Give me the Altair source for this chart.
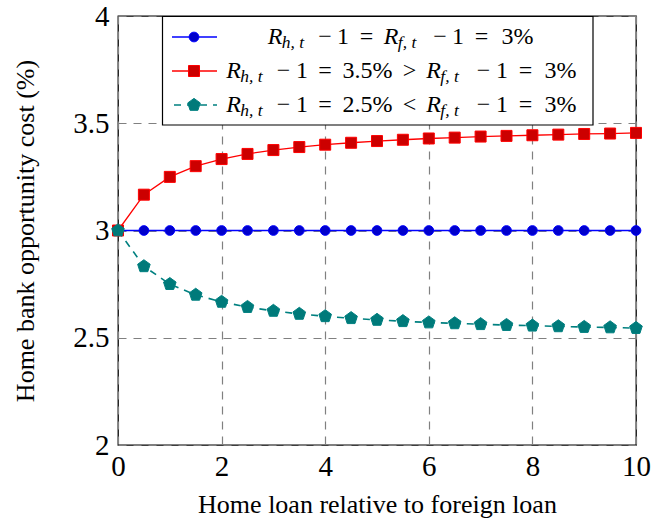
import altair as alt
import pandas as pd

# ---------------- data ----------------
x_vals = [0, 0.5, 1, 1.5, 2, 2.5, 3, 3.5, 4, 4.5, 5, 5.5, 6, 6.5, 7, 7.5, 8, 8.5, 9, 9.5, 10]
blue_vals = [3.0, 3.0, 3.0, 3.0, 3.0, 3.0, 3.0, 3.0, 3.0, 3.0, 3.0,
             3.0, 3.0, 3.0, 3.0, 3.0, 3.0, 3.0, 3.0, 3.0, 3.0]
red_vals = [3.0, 3.167, 3.25, 3.30, 3.333, 3.357, 3.375, 3.389, 3.40, 3.409, 3.417,
            3.423, 3.429, 3.433, 3.438, 3.441, 3.444, 3.447, 3.45, 3.452, 3.455]
teal_vals = [3.0, 2.833, 2.75, 2.70, 2.667, 2.643, 2.625, 2.611, 2.60, 2.591, 2.583,
             2.577, 2.571, 2.567, 2.563, 2.559, 2.556, 2.553, 2.55, 2.548, 2.545]
x_ticks = [0, 2, 4, 6, 8, 10]
y_ticks = [2, 2.5, 3, 3.5, 4]
x_title = "Home loan relative to foreign loan"
y_title = "Home bank opportunity cost (%)"

FONT = "Liberation Serif"
W, H = 518, 429

x_enc = alt.X("x:Q", scale=alt.Scale(domain=[0, 10], nice=False),
              axis=alt.Axis(values=x_ticks, title=x_title, grid=True, ticks=False, tickSize=0,
                            domain=False, labelFontSize=29, labelBaseline="alphabetic",
                            labelPadding=30, labelFlush=False,
                            titleFontSize=26, titleFontWeight="normal", titleBaseline="alphabetic",
                            titleY=67, titleX=W / 2, titleAlign="center"))
y_enc = alt.Y("y:Q", scale=alt.Scale(domain=[2, 4], nice=False, zero=False),
              axis=alt.Axis(values=y_ticks, format="~g", title=y_title, grid=True, ticks=False,
                            tickSize=0, domain=False, labelFontSize=29, labelPadding=9,
                            labelFlush=False, labelBaseline="middle",
                            titleFontSize=26, titleFontWeight="normal", titleAngle=-90,
                            titleBaseline="middle", titleAlign="center", titleX=-93, titleY=H / 2))


def series_df(vals):
    return pd.DataFrame({"x": x_vals, "y": vals})


PENTAGON = "M0,-1L0.951,-0.309L0.588,0.809L-0.588,0.809L-0.951,-0.309Z"

layers = []
# blue
b = alt.Chart(series_df(blue_vals))
layers.append(b.mark_line(color="#0000FF", strokeWidth=1.3).encode(x=x_enc, y=y_enc))
layers.append(b.mark_point(shape="circle", filled=True, fill="#0000CC", stroke="#0000FF",
                           strokeWidth=1, size=95, opacity=1).encode(x="x:Q", y="y:Q"))
# red
r = alt.Chart(series_df(red_vals))
layers.append(r.mark_line(color="#FF0000", strokeWidth=1.3).encode(x="x:Q", y="y:Q"))
layers.append(r.mark_point(shape="square", filled=True, fill="#CC0000", stroke="#FF0000",
                           strokeWidth=1, size=121, opacity=1).encode(x="x:Q", y="y:Q"))
# teal
t = alt.Chart(series_df(teal_vals))
layers.append(t.mark_line(color="#008080", strokeWidth=1.6, strokeDash=[7, 6]).encode(x="x:Q", y="y:Q"))
layers.append(t.mark_point(shape=PENTAGON, filled=True, fill="#007A7A", stroke="#008080",
                           strokeWidth=1, size=175, opacity=1).encode(x="x:Q", y="y:Q"))

# ---------------- legend (drawn by hand, pixel layout) ----------------
LX0 = 162.5 - 118
LX1 = 593 - 118
legend_box = alt.Chart(pd.DataFrame({"a": [0]})).mark_rect(
    fill="white", stroke="black", strokeWidth=1.2).encode(
    x=alt.value(LX0), x2=alt.value(LX1), y=alt.value(0.5), y2=alt.value(109))
layers.append(legend_box)

row_y = [21, 55, 89]
line_x0, line_x1, mark_x = 172 - 118, 217 - 118, 194 - 118
leg_colors = ["#0000FF", "#FF0000", "#008080"]
for i, col in enumerate(leg_colors):
    seg = alt.Chart(pd.DataFrame({"a": [0]}))
    if i == 2:
        layers.append(seg.mark_rule(color=col, strokeWidth=1.6, strokeDash=[7, 6], strokeDashOffset=-2).encode(
            x=alt.value(line_x0), x2=alt.value(line_x1), y=alt.value(row_y[i])))
    else:
        layers.append(seg.mark_rule(color=col, strokeWidth=1.3).encode(
            x=alt.value(line_x0), x2=alt.value(line_x1), y=alt.value(row_y[i])))
leg_marks = [("circle", "#0000CC", "#0000FF", 95), ("square", "#CC0000", "#FF0000", 121),
             (PENTAGON, "#007A7A", "#008080", 175)]
for i, (shp, fill, stroke, size) in enumerate(leg_marks):
    layers.append(alt.Chart(pd.DataFrame({"a": [0]})).mark_point(
        shape=shp, filled=True, fill=fill, stroke=stroke, strokeWidth=1, size=size, opacity=1).encode(
        x=alt.value(mark_x), y=alt.value(row_y[i])))

# legend label pieces: (text, kind, centre-x absolute)
FS_MAIN, FS_SUB = 24, 17.5
SUB_H = "h, t"
SUB_F = "f, t"
label_rows = [
    [("R", "it", 275), (SUB_H, "sub", None), ("\u2212", "rm", 325), ("1", "rm", 343), ("=", "rm", 366.5),
     ("R", "it", 391), (SUB_F, "sub", None), ("\u2212", "rm", 440), ("1", "rm", 458), ("=", "rm", 481.5),
     ("3%", "rm", 517.5)],
    [("R", "it", 233.5), (SUB_H, "sub", None), ("\u2212", "rm", 283.5), ("1", "rm", 302), ("=", "rm", 325),
     ("3.5%", "rm", 367.5), (">", "rm", 409.5), ("R", "it", 433.5), (SUB_F, "sub", None),
     ("\u2212", "rm", 483.5), ("1", "rm", 502), ("=", "rm", 525.5), ("3%", "rm", 560.5)],
    [("R", "it", 233.5), (SUB_H, "sub", None), ("\u2212", "rm", 283.5), ("1", "rm", 302), ("=", "rm", 325),
     ("2.5%", "rm", 367.5), ("<", "rm", 409.5), ("R", "it", 433.5), (SUB_F, "sub", None),
     ("\u2212", "rm", 483.5), ("1", "rm", 502), ("=", "rm", 525.5), ("3%", "rm", 560.5)],
]
baselines = [27.5, 62, 96]
pieces = {"it": [], "sub": [], "rm": []}
R_W = 0.611 * FS_MAIN
for ri, row in enumerate(label_rows):
    prev_center = None
    for text, kind, cx in row:
        if kind == "sub":
            px = prev_center - 118 + R_W / 2 - 0.5
            pieces[kind].append({"px": px, "py": baselines[ri] + 4, "t": text})
        else:
            pieces[kind].append({"px": cx - 118, "py": baselines[ri], "t": text})
            prev_center = cx
for kind, rows in pieces.items():
    df = pd.DataFrame(rows)
    mk = dict(font=FONT, baseline="alphabetic", color="black")
    if kind == "it":
        mk.update(fontStyle="italic", fontSize=FS_MAIN, align="center")
    elif kind == "sub":
        mk.update(fontStyle="italic", fontSize=FS_SUB, align="left")
    else:
        mk.update(fontSize=FS_MAIN, align="center")
    layers.append(alt.Chart(df).mark_text(**mk).encode(
        x=alt.X("px:Q", scale=None), y=alt.Y("py:Q", scale=None), text="t:N"))

chart = alt.layer(*layers).properties(
    width=W, height=H,
    background="white",
    autosize=alt.AutoSizeParams(type="none"),
    padding={"left": 118, "top": 16, "right": 15, "bottom": 75},
).configure(font=FONT).configure_view(stroke="black", strokeWidth=1.3).configure_axis(
    labelFont=FONT, titleFont=FONT, labelColor="black", titleColor="black",
    gridColor="#808080", gridDash=[8, 7], gridWidth=1.2, gridOpacity=1,
).configure_text(font=FONT)

chart.save("out.html", embed_options={"renderer": "svg", "actions": False})
